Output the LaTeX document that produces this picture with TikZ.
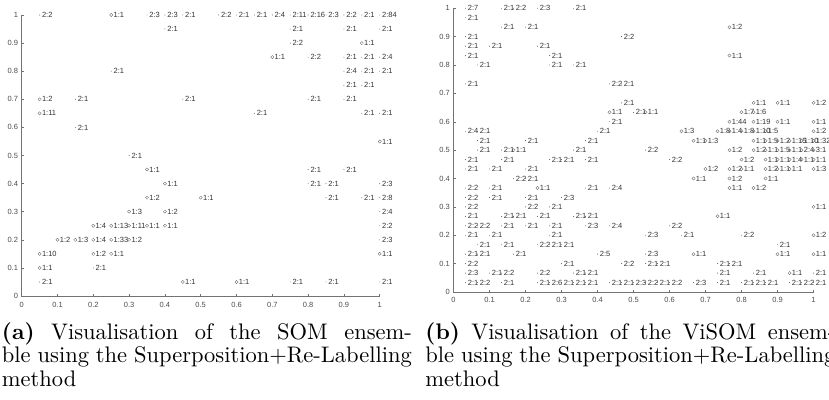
\documentclass[tikz,border=0pt]{standalone}
\usepackage{fontspec}
\newfontfamily\plotfont{Liberation Sans}
\usetikzlibrary{positioning}

\tikzset{
  axisline/.style={black!55, line width=0.5pt},
  ticklab/.style={font=\plotfont\fontsize{7.5}{9}\selectfont, text=black!70, inner sep=0pt},
  ptlab/.style={font=\plotfont\fontsize{7.5}{9}\selectfont, text=black!80, inner sep=0pt, anchor=west, xshift=2.2pt},
  ring/.style={draw=black!60, line width=0.35pt},
  capstyle/.style={scale=2.25, transform shape, text width=182.2pt, align=justify, inner sep=0pt,
    anchor=north west, font=\fontsize{10}{10.45}\selectfont}
}

\begin{document}
\begin{tikzpicture}[x=1pt, y=1pt]
\useasboundingbox (0,0) rectangle (829,399);

% (a) SOM ensemble, 0.05 grid
\begin{scope}[shift={(21.7,103)}, x=17.9pt, y=14.05pt]
  \draw[axisline] (0,20) -- (0,0) -- (20,0);
  \foreach \i/\t in {0/0,2/0.1,4/0.2,6/0.3,8/0.4,10/0.5,12/0.6,14/0.7,16/0.8,18/0.9,20/1}{
    \draw[axisline] (\i,0) -- ++(0,2.5pt);
    \draw[axisline] (0,\i) -- ++(2.5pt,0);
    \node[ticklab, below=6.5pt] (xa\i) at (\i,0) {\t};
    \node[ticklab, left=3.5pt] (ya\i) at (0,\i) {\t};
  }
  % class 1
  \foreach \k/\l/\t in {5/20/1:1, 19/18/1:1, 14/17/1:1, 1/14/1:2, 1/13/1:11, 20/11/1:1,
      7/9/1:1, 8/8/1:1, 7/7/1:2, 10/7/1:1, 6/6/1:3, 8/6/1:2,
      4/5/1:4, 5/5/1:13, 6/5/1:11, 7/5/1:1, 8/5/1:1,
      2/4/1:2, 3/4/1:3, 4/4/1:4, 5/4/1:33, 6/4/1:2,
      1/3/1:10, 4/3/1:2, 5/3/1:1, 20/3/1:1, 1/2/1:1, 9/1/1:1, 12/1/1:1}{
    \draw[ring] (\k,\l) circle (1.6pt);
    \node[ptlab] (sa-\k-\l) at (\k,\l) {\t};
  }
  % class 2
  \foreach \k/\l/\t in {1/20/2:2, 7/20/2:3, 8/20/2:3, 9/20/2:1, 11/20/2:2, 12/20/2:1, 13/20/2:1,
      14/20/2:4, 15/20/2:11, 16/20/2:16, 17/20/2:3, 18/20/2:2, 19/20/2:1, 20/20/2:84,
      8/19/2:1, 15/19/2:1, 18/19/2:1, 20/19/2:1, 15/18/2:2,
      16/17/2:2, 18/17/2:1, 19/17/2:1, 20/17/2:4,
      5/16/2:1, 18/16/2:4, 19/16/2:1, 20/16/2:1, 18/15/2:1, 19/15/2:1,
      3/14/2:1, 9/14/2:1, 16/14/2:1, 18/14/2:1, 13/13/2:1, 19/13/2:1, 20/13/2:1,
      3/12/2:1, 6/10/2:1, 16/9/2:1, 18/9/2:1, 16/8/2:1, 17/8/2:1, 20/8/2:3,
      17/7/2:1, 19/7/2:1, 20/7/2:8, 20/6/2:4, 20/5/2:2, 20/4/2:3, 4/2/2:1,
      1/1/2:1, 15/1/2:1, 17/1/2:1, 20/1/2:1}{
    \fill[black!70] (\k,\l) circle (0.45pt);
    \node[ptlab] (sa-\k-\l) at (\k,\l) {\t};
  }
\end{scope}

% (b) ViSOM ensemble, 1/30 grid
\begin{scope}[shift={(453.5,107)}, x=12pt, y=9.457pt]
  \draw[axisline] (0,30) -- (0,0) -- (30,0);
  \foreach \i/\t in {0/0,3/0.1,6/0.2,9/0.3,12/0.4,15/0.5,18/0.6,21/0.7,24/0.8,27/0.9,30/1}{
    \draw[axisline] (\i,0) -- ++(0,2.5pt);
    \draw[axisline] (0,\i) -- ++(2.5pt,0);
    \node[ticklab, below=5.5pt] (xb\i) at (\i,0) {\t};
    \node[ticklab, left=3.5pt] (yb\i) at (0,\i) {\t};
  }
  % class 1
  \foreach \k/\l/\t in {23/28/1:2, 23/25/1:1, 13/19/1:1, 16/19/1:1, 5/15/1:1,
      25/20/1:1, 27/20/1:1, 30/20/1:2, 24/19/1:7, 25/19/1:6,
      23/18/1:44, 25/18/1:19, 27/18/1:1, 30/18/1:1,
      19/17/1:3, 22/17/1:8, 23/17/1:4, 24/17/1:8, 25/17/1:10, 26/17/1:5, 30/17/1:2,
      20/16/1:1, 21/16/1:3, 25/16/1:1, 26/16/1:5, 27/16/1:2, 28/16/1:15, 29/16/1:10, 30/16/1:32,
      23/15/1:2, 25/15/1:2, 26/15/1:1, 27/15/1:5, 28/15/1:1, 29/15/2:4, 30/15/3:1,
      24/14/1:2, 26/14/1:1, 27/14/1:1, 28/14/1:4, 29/14/1:1, 30/14/1:1,
      21/13/1:2, 23/13/1:2, 24/13/1:1, 26/13/1:2, 27/13/1:1, 28/13/1:1, 30/13/1:3,
      20/12/1:1, 23/12/1:2, 26/12/1:1, 7/11/1:1, 23/11/1:1, 25/11/1:2,
      30/9/1:1, 22/8/1:1, 30/6/1:2, 20/4/1:1, 27/4/1:1, 30/4/1:1, 28/2/1:1}{
    \draw[ring] (\k,\l) circle (1.6pt);
    \node[ptlab] (sb-\k-\l) at (\k,\l) {\t};
  }
  % class 2
  \foreach \k/\l/\t in {1/30/2:7, 4/30/2:1, 5/30/2:2, 7/30/2:3, 10/30/2:1, 1/29/2:1,
      4/28/2:1, 6/28/2:1, 1/27/2:1, 14/27/2:2, 1/26/2:1, 3/26/2:1, 7/26/2:1,
      1/25/2:1, 8/25/2:1, 2/24/2:1, 8/24/2:1, 10/24/2:1, 1/22/2:1, 13/22/2:2, 14/22/2:1,
      14/20/2:1, 15/19/2:1, 13/18/2:1, 1/17/2:4, 2/17/2:1, 12/17/2:1,
      2/16/2:1, 6/16/2:1, 11/16/2:1, 2/15/2:1, 4/15/2:1, 10/15/2:1, 16/15/2:2,
      1/14/2:1, 4/14/2:1, 8/14/2:1, 9/14/2:1, 11/14/2:1, 18/14/2:2,
      1/13/2:1, 3/13/2:1, 6/13/2:1, 5/12/2:2, 6/12/2:1,
      1/11/2:2, 3/11/2:1, 11/11/2:1, 13/11/2:4, 1/10/2:2, 3/10/2:1, 6/10/2:1, 9/10/2:3,
      1/9/2:2, 6/9/2:2, 8/9/2:1, 1/8/2:1, 4/8/2:1, 5/8/2:1, 7/8/2:1, 10/8/2:1, 11/8/2:1,
      1/7/2:2, 2/7/2:2, 4/7/2:1, 6/7/2:1, 8/7/2:1, 11/7/2:3, 13/7/2:4, 18/7/2:2,
      1/6/2:1, 3/6/2:1, 8/6/2:1, 16/6/2:3, 19/6/2:1, 24/6/2:2,
      2/5/2:1, 4/5/2:1, 7/5/2:2, 8/5/2:1, 9/5/2:1, 27/5/2:1,
      1/4/2:1, 2/4/2:1, 5/4/2:1, 12/4/2:5, 16/4/2:3,
      1/3/2:2, 9/3/2:1, 14/3/2:2, 16/3/2:1, 17/3/2:1, 22/3/2:1, 23/3/2:1,
      1/2/2:3, 3/2/2:1, 4/2/2:2, 7/2/2:2, 10/2/2:1, 11/2/2:1, 22/2/2:1, 25/2/2:1, 30/2/2:1,
      1/1/2:1, 2/1/2:2, 4/1/2:1, 7/1/2:1, 8/1/2:6, 9/1/2:1, 10/1/2:1, 11/1/2:1,
      13/1/2:1, 14/1/2:1, 15/1/2:3, 16/1/2:2, 17/1/2:1, 18/1/2:2, 20/1/2:3,
      22/1/2:1, 24/1/2:1, 25/1/2:1, 26/1/2:1, 28/1/2:1, 29/1/2:2, 30/1/2:1}{
    \fill[black!70] (\k,\l) circle (0.45pt);
    \node[ptlab] (sb-\k-\l) at (\k,\l) {\t};
  }
\end{scope}

% captions
\node[capstyle] (capa) at (1.5,77) {\textbf{(a)} Visualisation of the SOM ensem-\linebreak ble using the Superposition+Re-Labelling\linebreak method};
\node[capstyle] (capb) at (425,77) {\textbf{(b)} Visualisation of the ViSOM ensem-\linebreak ble using the Superposition+Re-Labelling\linebreak method};
\end{tikzpicture}
\end{document}
